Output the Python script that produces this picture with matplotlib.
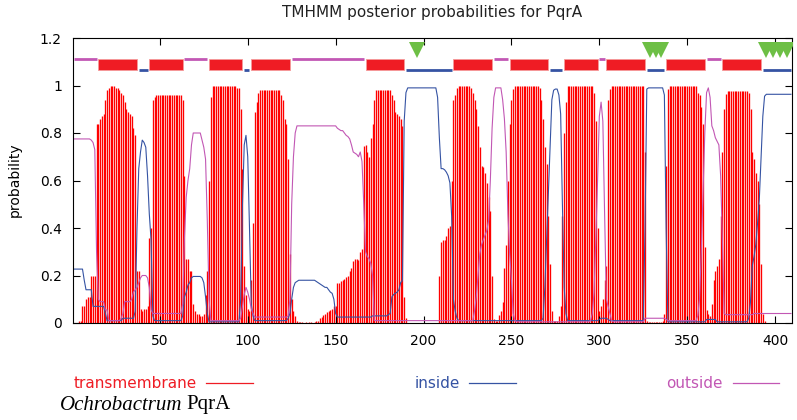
import matplotlib
matplotlib.use("Agg")
import matplotlib.pyplot as plt
import numpy as np
from matplotlib.patches import Rectangle
from matplotlib.lines import Line2D

# posterior probabilities per residue (1..409)
tm = [
    0, 0, 0, 0.01, 0.01, 0.07, 0.07, 0.10, 0.11, 0.11,
    0.20, 0.20, 0.20, 0.84, 0.84, 0.86, 0.87, 0.88, 0.94, 0.98,
    0.99, 1.00, 1.00, 1.00, 0.99, 0.99, 0.98, 0.97, 0.96, 0.93,
    0.90, 0.89, 0.88, 0.87, 0.82, 0.79, 0.22, 0.22, 0.06, 0.05,
    0.06, 0.06, 0.07, 0.36, 0.40, 0.94, 0.95, 0.96, 0.96, 0.96,
    0.96, 0.96, 0.96, 0.96, 0.96, 0.96, 0.96, 0.96, 0.96, 0.96,
    0.96, 0.96, 0.94, 0.62, 0.27, 0.27, 0.22, 0.22, 0.08, 0.05,
    0.04, 0.04, 0.03, 0.03, 0.04, 0.12, 0.22, 0.60, 0.95, 1.00,
    1.00, 1.00, 1.00, 1.00, 1.00, 1.00, 1.00, 1.00, 1.00, 1.00,
    1.00, 1.00, 1.00, 0.99, 0.99, 0.90, 0.65, 0.24, 0.12, 0.06,
    0.05, 0.18, 0.42, 0.89, 0.93, 0.97, 0.98, 0.98, 0.98, 0.98,
    0.98, 0.98, 0.98, 0.98, 0.98, 0.98, 0.98, 0.98, 0.96, 0.94,
    0.86, 0.84, 0.69, 0.29, 0.10, 0.05, 0.03, 0.01, 0.005, 0.005,
    0.005, 0, 0.005, 0, 0.005, 0.005, 0, 0.005, 0.01, 0.01,
    0.02, 0.025, 0.035, 0.04, 0.045, 0.05, 0.055, 0.06, 0.07, 0.07,
    0.17, 0.17, 0.175, 0.18, 0.185, 0.195, 0.20, 0.22, 0.23, 0.26,
    0.27, 0.27, 0.265, 0.30, 0.31, 0.745, 0.75, 0.72, 0.70, 0.78,
    0.84, 0.94, 0.98, 0.98, 0.98, 0.98, 0.98, 0.98, 0.98, 0.98,
    0.98, 0.96, 0.94, 0.89, 0.88, 0.87, 0.86, 0.83, 0.11, 0.02,
    0, 0, 0, 0, 0, 0, 0, 0, 0, 0,
    0, 0, 0, 0, 0, 0, 0, 0, 0.20, 0.34,
    0.35, 0.35, 0.365, 0.40, 0.41, 0.60, 0.94, 0.96, 0.99, 1.00,
    1.00, 1.00, 1.00, 1.00, 1.00, 1.00, 0.99, 0.97, 0.94, 0.90,
    0.83, 0.74, 0.66, 0.655, 0.63, 0.59, 0.53, 0.47, 0.20, 0.015,
    0.01, 0.01, 0.035, 0.05, 0.09, 0.23, 0.33, 0.60, 0.84, 0.94,
    0.985, 1.00, 1.00, 1.00, 1.00, 1.00, 1.00, 1.00, 1.00, 1.00,
    1.00, 1.00, 1.00, 1.00, 1.00, 0.99, 0.94, 0.86, 0.74, 0.67,
    0.45, 0.25, 0.05, 0.01, 0.01, 0.01, 0.03, 0.07, 0.45, 0.80,
    0.93, 1.00, 1.00, 1.00, 1.00, 1.00, 1.00, 1.00, 1.00, 1.00,
    1.00, 1.00, 1.00, 1.00, 1.00, 1.00, 0.97, 0.85, 0.40, 0.05,
    0.07, 0.10, 0.18, 0.24, 0.94, 0.985, 1.00, 1.00, 1.00, 1.00,
    1.00, 1.00, 1.00, 1.00, 1.00, 1.00, 1.00, 1.00, 1.00, 1.00,
    1.00, 1.00, 1.00, 1.00, 1.00, 0.72, 0.01, 0.005, 0.005, 0.005,
    0.005, 0.005, 0.005, 0.005, 0.005, 0.01, 0.04, 0.66, 0.985, 1.00,
    1.00, 1.00, 1.00, 1.00, 1.00, 1.00, 1.00, 1.00, 1.00, 1.00,
    1.00, 1.00, 1.00, 1.00, 1.00, 0.97, 0.96, 0.91, 0.84, 0.32,
    0.055, 0.04, 0.03, 0.08, 0.18, 0.22, 0.24, 0.27, 0.45, 0.72,
    0.90, 0.965, 0.975, 0.975, 0.975, 0.975, 0.975, 0.975, 0.975, 0.975,
    0.975, 0.975, 0.975, 0.975, 0.97, 0.90, 0.72, 0.69, 0.63, 0.60,
    0.50, 0.25, 0.04, 0.01, 0, 0, 0, 0, 0, 0,
    0, 0, 0, 0, 0, 0, 0, 0, 0,
]

inside = [
    0.227, 0.227, 0.227, 0.227, 0.227, 0.227, 0.18, 0.14, 0.14, 0.14,
    0.14, 0.07, 0.07, 0.07, 0.07, 0.07, 0.07, 0.07, 0.04, 0.01,
    0.01, 0.01, 0.01, 0.01, 0.01, 0.01, 0.01, 0.01, 0.02, 0.02,
    0.02, 0.02, 0.02, 0.02, 0.02, 0.05, 0.40, 0.65, 0.72, 0.77,
    0.76, 0.74, 0.62, 0.46, 0.35, 0.03, 0.01, 0.01, 0.01, 0.01,
    0.01, 0.01, 0.01, 0.01, 0.01, 0.01, 0.01, 0.01, 0.01, 0.01,
    0.01, 0.01, 0.03, 0.11, 0.13, 0.16, 0.17, 0.19, 0.196, 0.196,
    0.196, 0.196, 0.196, 0.19, 0.17, 0.11, 0.04, 0.005, 0.005, 0.005,
    0.005, 0.005, 0.005, 0.005, 0.005, 0.005, 0.005, 0.005, 0.005, 0.005,
    0.005, 0.005, 0.005, 0.005, 0.005, 0.10, 0.50, 0.75, 0.79, 0.70,
    0.40, 0.08, 0.03, 0.01, 0.01, 0.01, 0.01, 0.01, 0.01, 0.01,
    0.01, 0.01, 0.01, 0.01, 0.01, 0.01, 0.01, 0.01, 0.01, 0.01,
    0.01, 0.01, 0.02, 0.04, 0.10, 0.15, 0.17, 0.175, 0.18, 0.18,
    0.18, 0.18, 0.18, 0.18, 0.18, 0.18, 0.18, 0.18, 0.175, 0.17,
    0.165, 0.16, 0.155, 0.15, 0.15, 0.14, 0.13, 0.125, 0.10, 0.04,
    0.025, 0.025, 0.025, 0.025, 0.025, 0.025, 0.025, 0.025, 0.025, 0.025,
    0.025, 0.025, 0.025, 0.025, 0.025, 0.025, 0.025, 0.025, 0.025, 0.025,
    0.03, 0.03, 0.03, 0.03, 0.03, 0.03, 0.03, 0.03, 0.03, 0.035,
    0.04, 0.11, 0.12, 0.125, 0.13, 0.14, 0.17, 0.18, 0.85, 0.97,
    0.99, 0.99, 0.99, 0.99, 0.99, 0.99, 0.99, 0.99, 0.99, 0.99,
    0.99, 0.99, 0.99, 0.99, 0.99, 0.99, 0.99, 0.95, 0.78, 0.65,
    0.65, 0.645, 0.635, 0.62, 0.59, 0.45, 0.10, 0.05, 0.02, 0.01,
    0.01, 0.01, 0.01, 0.01, 0.01, 0.01, 0.01, 0.01, 0.01, 0.01,
    0.01, 0.01, 0.01, 0.01, 0.01, 0.01, 0.01, 0.01, 0.01, 0.01,
    0.01, 0.01, 0.01, 0.01, 0.01, 0.01, 0.01, 0.01, 0.01, 0.01,
    0.01, 0.01, 0.01, 0.01, 0.01, 0.01, 0.01, 0.01, 0.01, 0.01,
    0.01, 0.01, 0.01, 0.01, 0.01, 0.01, 0.01, 0.02, 0.15, 0.35,
    0.55, 0.75, 0.94, 0.98, 0.985, 0.985, 0.96, 0.88, 0.50, 0.15,
    0.04, 0.01, 0.01, 0.01, 0.01, 0.01, 0.01, 0.01, 0.01, 0.01,
    0.01, 0.01, 0.01, 0.01, 0.01, 0.01, 0.01, 0.01, 0.01, 0.015,
    0.02, 0.02, 0.02, 0.02, 0.015, 0.01, 0.01, 0.01, 0.01, 0.01,
    0.01, 0.01, 0.01, 0.01, 0.01, 0.01, 0.01, 0.01, 0.01, 0.01,
    0.01, 0.01, 0.01, 0.01, 0.01, 0.40, 0.985, 0.99, 0.99, 0.99,
    0.99, 0.99, 0.99, 0.99, 0.99, 0.99, 0.96, 0.40, 0.005, 0.005,
    0.005, 0.005, 0.005, 0.005, 0.005, 0.005, 0.005, 0.005, 0.005, 0.005,
    0.005, 0.005, 0.005, 0.005, 0.005, 0.005, 0.005, 0.005, 0.005, 0.005,
    0.015, 0.015, 0.015, 0.015, 0.015, 0.015, 0.005, 0.005, 0.005, 0.005,
    0.005, 0.005, 0.005, 0.005, 0.005, 0.005, 0.005, 0.005, 0.005, 0.005,
    0.005, 0.005, 0.005, 0.005, 0.02, 0.09, 0.24, 0.28, 0.33, 0.42,
    0.52, 0.70, 0.87, 0.955, 0.963, 0.963, 0.963, 0.963, 0.963, 0.963,
    0.963, 0.963, 0.963, 0.963, 0.963, 0.963, 0.963, 0.963, 0.963,
]

outside = [
    0.775, 0.775, 0.775, 0.775, 0.775, 0.775, 0.775, 0.775, 0.775, 0.775,
    0.77, 0.76, 0.73, 0.30, 0.10, 0.09, 0.09, 0.09, 0.055, 0.055,
    0.01, 0.01, 0.01, 0.01, 0.01, 0.01, 0.01, 0.02, 0.04, 0.09,
    0.09, 0.09, 0.09, 0.10, 0.13, 0.14, 0.15, 0.17, 0.19, 0.20,
    0.20, 0.20, 0.19, 0.15, 0.055, 0.04, 0.04, 0.04, 0.04, 0.04,
    0.04, 0.04, 0.04, 0.04, 0.04, 0.04, 0.04, 0.04, 0.04, 0.04,
    0.04, 0.04, 0.08, 0.36, 0.53, 0.60, 0.65, 0.75, 0.80, 0.80,
    0.80, 0.80, 0.80, 0.77, 0.74, 0.69, 0.43, 0.10, 0.01, 0.01,
    0.01, 0.01, 0.01, 0.01, 0.01, 0.01, 0.01, 0.01, 0.01, 0.01,
    0.01, 0.01, 0.01, 0.01, 0.01, 0.02, 0.07, 0.12, 0.15, 0.13,
    0.10, 0.06, 0.04, 0.025, 0.025, 0.025, 0.025, 0.025, 0.025, 0.025,
    0.025, 0.025, 0.025, 0.025, 0.025, 0.025, 0.025, 0.025, 0.025, 0.025,
    0.025, 0.025, 0.03, 0.10, 0.50, 0.70, 0.80, 0.83, 0.83, 0.83,
    0.83, 0.83, 0.83, 0.83, 0.83, 0.83, 0.83, 0.83, 0.83, 0.83,
    0.83, 0.83, 0.83, 0.83, 0.83, 0.83, 0.83, 0.83, 0.83, 0.83,
    0.82, 0.815, 0.81, 0.81, 0.80, 0.79, 0.785, 0.775, 0.75, 0.72,
    0.715, 0.71, 0.70, 0.72, 0.68, 0.50, 0.30, 0.28, 0.27, 0.25,
    0.20, 0.01, 0.01, 0.01, 0.01, 0.01, 0.01, 0.01, 0.01, 0.01,
    0.01, 0.01, 0.01, 0.01, 0.01, 0.01, 0.01, 0.01, 0.01, 0.01,
    0.01, 0.01, 0.01, 0.01, 0.01, 0.01, 0.01, 0.01, 0.01, 0.01,
    0.01, 0.01, 0.01, 0.01, 0.01, 0.01, 0.01, 0.01, 0.01, 0.01,
    0.01, 0.01, 0.01, 0.01, 0.01, 0.01, 0.01, 0.01, 0.01, 0.01,
    0.01, 0.01, 0.01, 0.01, 0.01, 0.01, 0.01, 0.01, 0.05, 0.11,
    0.20, 0.29, 0.33, 0.35, 0.37, 0.39, 0.43, 0.60, 0.82, 0.95,
    0.99, 0.99, 0.99, 0.99, 0.94, 0.86, 0.72, 0.46, 0.29, 0.18,
    0.04, 0.01, 0.005, 0.005, 0.005, 0.005, 0.005, 0.005, 0.005, 0.005,
    0.005, 0.005, 0.005, 0.005, 0.005, 0.005, 0.005, 0.005, 0.005, 0.005,
    0.005, 0.005, 0.005, 0.005, 0.005, 0.005, 0.005, 0.005, 0.005, 0.005,
    0.005, 0.005, 0.005, 0.005, 0.005, 0.005, 0.005, 0.005, 0.005, 0.005,
    0.005, 0.005, 0.005, 0.005, 0.01, 0.04, 0.13, 0.35, 0.60, 0.87,
    0.93, 0.85, 0.46, 0.10, 0.07, 0.04, 0.01, 0.005, 0.005, 0.005,
    0.005, 0.005, 0.005, 0.005, 0.005, 0.005, 0.005, 0.005, 0.005, 0.005,
    0.005, 0.005, 0.005, 0.005, 0.005, 0.02, 0.02, 0.02, 0.02, 0.02,
    0.02, 0.02, 0.02, 0.02, 0.02, 0.02, 0.02, 0.015, 0.01, 0.01,
    0.01, 0.01, 0.01, 0.01, 0.01, 0.01, 0.01, 0.01, 0.01, 0.01,
    0.01, 0.01, 0.01, 0.01, 0.01, 0.03, 0.10, 0.30, 0.55, 0.80,
    0.97, 0.99, 0.95, 0.83, 0.81, 0.78, 0.765, 0.75, 0.62, 0.35,
    0.04, 0.035, 0.035, 0.035, 0.035, 0.035, 0.035, 0.035, 0.035, 0.035,
    0.035, 0.035, 0.035, 0.035, 0.035, 0.035, 0.035, 0.04, 0.04, 0.04,
    0.04, 0.04, 0.04, 0.04, 0.04, 0.04, 0.04, 0.04, 0.04, 0.04,
    0.04, 0.04, 0.04, 0.04, 0.04, 0.04, 0.04, 0.04, 0.04,
]

# predicted topology (residue ranges)
seg_kind = ["outside", "TM", "inside", "TM", "outside", "TM", "inside", "TM",
            "outside", "TM", "inside", "TM", "outside", "TM", "inside", "TM",
            "outside", "TM", "inside", "TM", "outside", "TM", "inside"]
seg_start = [1, 15, 38, 44, 64, 78, 98, 102, 125, 167, 190, 217, 240, 249,
             272, 280, 300, 304, 327, 338, 361, 370, 393]
seg_end = [14, 37, 43, 63, 77, 97, 101, 124, 166, 189, 216, 239, 248, 271,
           279, 299, 303, 326, 337, 360, 369, 392, 409]

# green markers above the topology bar
sites = [196, 329, 332, 335, 395, 399, 403, 407]

xticks = [50, 100, 150, 200, 250, 300, 350, 400]
yticks = [0, 0.2, 0.4, 0.6, 0.8, 1.0, 1.2]
ytick_labels = ["0", "0.2", "0.4", "0.6", "0.8", "1", "1.2"]

RED = "#ef1c24"
BLUE = "#3553a3"
MAGENTA = "#c257b4"
GREEN = "#6dbf45"

W, H = 797, 420
fig = plt.figure(figsize=(W / 100, H / 100), dpi=100)
ax = fig.add_axes([73 / W, 1 - 323 / H, (792 - 73) / W, (323 - 38) / H])

res = np.arange(1, len(tm) + 1)
ax.vlines(res, 0, tm, colors="#ff0000", linewidth=0.95, zorder=1)
ax.plot(res, inside, color=BLUE, linewidth=0.8, zorder=2)
ax.plot(res, outside, color=MAGENTA, linewidth=0.8, zorder=2)

# topology bar
for kind, s, e in zip(seg_kind, seg_start, seg_end):
    if kind == "TM":
        ax.add_patch(Rectangle((s, 1.065), e - s, 0.048, facecolor=RED,
                               edgecolor="#f59a9a", linewidth=0.6, zorder=3))
    elif kind == "inside":
        ax.plot([s, e], [1.067, 1.067], color=BLUE, linewidth=2.0,
                solid_capstyle="butt", zorder=3)
    else:
        ax.plot([s, e], [1.111, 1.111], color=MAGENTA, linewidth=2.0,
                solid_capstyle="butt", zorder=3)

ax.plot(sites, [1.15] * len(sites), linestyle="none", marker="v",
        markersize=12, color=GREEN, markeredgewidth=0, zorder=4)

ax.set_xlim(0.6, 409.6)
ax.set_ylim(0, 1.2)
ax.set_xticks(xticks)
ax.set_yticks(yticks)
ax.set_yticklabels(ytick_labels)
ax.tick_params(direction="in", top=True, right=True, length=5, width=0.8,
               labelsize=10, pad=8)
for sp in ax.spines.values():
    sp.set_linewidth(0.8)

fig.text(432.5 / W, 1 - 13 / H, "TMHMM posterior probabilities for PqrA",
         ha="center", va="center", fontsize=11, color="#222222")
fig.text(15 / W, 1 - 180 / H, "probability", rotation=90, ha="center",
         va="center", fontsize=10)

# legend below the plot
legend_items = [("transmembrane", RED, 197, 206, 253),
                ("inside", BLUE, 460, 469, 516),
                ("outside", MAGENTA, 723, 733, 779)]
for label, col, tx, l0, l1 in legend_items:
    fig.text(tx / W, 1 - 383 / H, label, ha="right", va="center",
             fontsize=11, color=col)
    fig.add_artist(Line2D([l0 / W, l1 / W], [1 - 383 / H, 1 - 383 / H],
                          color=col, linewidth=0.9))

t1 = fig.text(60 / W, 1 - 405 / H, "Ochrobactrum", ha="left", va="center",
              fontsize=15, family="Liberation Serif", style="italic")
renderer = fig.canvas.get_renderer()
bb = t1.get_window_extent(renderer)
fig.text((bb.x1 + 4) / W, 1 - 405 / H, "PqrA", ha="left", va="center",
         fontsize=15, family="Liberation Serif")

fig.savefig("out.png", dpi=100)
